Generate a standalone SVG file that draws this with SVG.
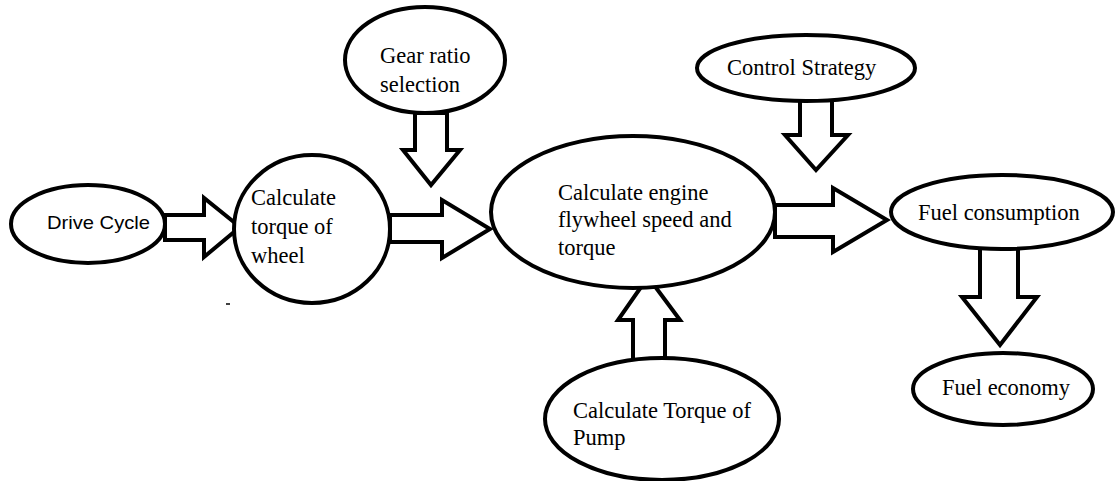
<svg xmlns="http://www.w3.org/2000/svg" width="1117" height="481" viewBox="0 0 1117 481">
<style>
.n{fill:#fff;stroke:#000;stroke-width:4}
.a{fill:#fff;stroke:#000;stroke-width:4;stroke-linejoin:miter}
.t{font-family:"Liberation Serif","Times New Roman",serif;font-size:22.5px;fill:#000}
.s{font-family:"Liberation Sans",Arial,sans-serif;font-size:19px;fill:#000}
</style>
<rect width="1117" height="481" fill="#fff"/>
<g id="connectors">
<polygon class="a" points="165,215 204,215 204,198 240,227 204,257 204,240 165,240"/>
<polygon class="a" points="390,215 442,215 442,200 490,229 442,258 442,242 390,242"/>
<polygon class="a" points="415,113 447,113 447,150 460,150 431,185 403,150 415,150"/>
<polygon class="a" points="775,205 833,205 833,188 887,220 833,252 833,237 775,237"/>
<polygon class="a" points="800,100 832,100 832,135 848,135 816,170 785,135 800,135"/>
<polygon class="a" points="980,248 1018,248 1018,297 1037,297 1000,345 962,297 980,297"/>
<polygon class="a" points="633,360 665,360 665,320 680,320 648,277 618,320 633,320"/>
</g>
<g id="drive-cycle">
<ellipse class="n" cx="88" cy="224" rx="77" ry="39"/>
<text class="s" x="47" y="229" textLength="103" lengthAdjust="spacingAndGlyphs">Drive Cycle</text>
</g>
<g id="torque-wheel">
<ellipse class="n" cx="312" cy="229" rx="78" ry="74"/>
<text class="t" x="251" y="205">Calculate</text>
<text class="t" x="251" y="234">torque of</text>
<text class="t" x="251" y="263">wheel</text>
<line x1="226" y1="304" x2="230" y2="304" stroke="#000" stroke-width="1.5"/>
</g>
<g id="gear-ratio">
<ellipse class="n" cx="425" cy="60" rx="80" ry="53"/>
<text class="t" x="380" y="63">Gear ratio</text>
<text class="t" x="380" y="92">selection</text>
</g>
<g id="engine">
<ellipse class="n" cx="633" cy="212" rx="142" ry="76"/>
<text class="t" x="558" y="200">Calculate engine</text>
<text class="t" x="558" y="227">flywheel speed and</text>
<text class="t" x="558" y="255">torque</text>
</g>
<g id="control-strategy">
<ellipse class="n" cx="806" cy="68" rx="109" ry="33"/>
<text class="t" x="727" y="75">Control Strategy</text>
</g>
<g id="fuel-consumption">
<ellipse class="n" cx="1002" cy="212" rx="111" ry="37"/>
<text class="t" x="918" y="220">Fuel consumption</text>
</g>
<g id="fuel-economy">
<ellipse class="n" cx="1003" cy="389" rx="90" ry="36"/>
<text class="t" x="942" y="395">Fuel economy</text>
</g>
<g id="pump">
<ellipse class="n" cx="662" cy="419" rx="117" ry="61"/>
<text class="t" x="573" y="418">Calculate Torque of</text>
<text class="t" x="573" y="445">Pump</text>
</g>
</svg>
